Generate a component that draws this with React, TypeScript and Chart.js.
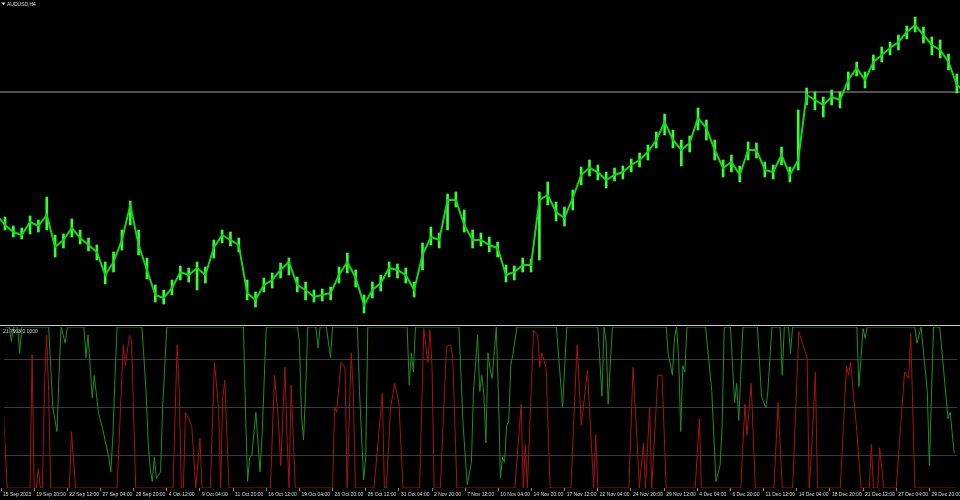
import React, { useEffect, useRef } from "react";
import { Chart, registerables } from "chart.js";

Chart.register(...registerables);

const symbolLabel = "AUDUSD,H4";
const indicatorLabel = "21.7903 0.0000";

const timeLabels = [
  "15 Sep 2023", "19 Sep 20:00", "22 Sep 12:00", "27 Sep 04:00", "29 Sep 20:00",
  "4 Oct 12:00", "9 Oct 04:00", "11 Oct 20:00", "16 Oct 12:00", "19 Oct 04:00",
  "23 Oct 20:00", "26 Oct 12:00", "31 Oct 04:00", "2 Nov 20:00", "7 Nov 12:00",
  "10 Nov 04:00", "14 Nov 20:00", "17 Nov 12:00", "22 Nov 04:00", "24 Nov 20:00",
  "29 Nov 12:00", "4 Dec 04:00", "6 Dec 20:00", "11 Dec 12:00", "14 Dec 04:00",
  "18 Dec 20:00", "21 Dec 12:00", "27 Dec 04:00", "29 Dec 20:00",
];
const barsPerLabel = 16;
const barsPerSample = 4;

const priceClose = [
  0.6470, 0.6450, 0.6436, 0.6430, 0.6456, 0.6448, 0.6470, 0.6406, 0.6420, 0.6444,
  0.6424, 0.6410, 0.6396, 0.6350, 0.6376, 0.6420, 0.6490, 0.6410, 0.6360, 0.6310,
  0.6304, 0.6324, 0.6356, 0.6350, 0.6364, 0.6350, 0.6404, 0.6430, 0.6420, 0.6410,
  0.6314, 0.6300, 0.6330, 0.6340, 0.6360, 0.6376, 0.6330, 0.6320, 0.6306, 0.6310,
  0.6314, 0.6350, 0.6376, 0.6344, 0.6290, 0.6320, 0.6334, 0.6364, 0.6360, 0.6350,
  0.6320, 0.6390, 0.6426, 0.6420, 0.6500, 0.6500, 0.6450, 0.6420, 0.6420, 0.6410,
  0.6404, 0.6350, 0.6356, 0.6370, 0.6370, 0.6500, 0.6510, 0.6476, 0.6464, 0.6504,
  0.6550, 0.6564, 0.6556, 0.6540, 0.6550, 0.6556, 0.6570, 0.6580, 0.6596, 0.6620,
  0.6656, 0.6620, 0.6600, 0.6614, 0.6664, 0.6644, 0.6600, 0.6564, 0.6576, 0.6550,
  0.6600, 0.6600, 0.6560, 0.6556, 0.6590, 0.6550, 0.6580, 0.6710, 0.6700, 0.6690,
  0.6706, 0.6700, 0.6740, 0.6764, 0.6740, 0.6776, 0.6790, 0.6804, 0.6816, 0.6836,
  0.6850, 0.6830, 0.6810, 0.6800, 0.6776, 0.6730, 0.6716,
];
const priceHigh = [
  0.6480, 0.6466, 0.6448, 0.6444, 0.6468, 0.6460, 0.6506, 0.6430, 0.6432, 0.6462,
  0.6440, 0.6424, 0.6410, 0.6376, 0.6396, 0.6440, 0.6498, 0.6440, 0.6384, 0.6330,
  0.6320, 0.6340, 0.6368, 0.6364, 0.6376, 0.6366, 0.6420, 0.6440, 0.6436, 0.6424,
  0.6340, 0.6316, 0.6344, 0.6354, 0.6374, 0.6384, 0.6346, 0.6336, 0.6320, 0.6322,
  0.6326, 0.6366, 0.6394, 0.6360, 0.6310, 0.6336, 0.6350, 0.6376, 0.6372, 0.6364,
  0.6336, 0.6414, 0.6446, 0.6434, 0.6512, 0.6516, 0.6480, 0.6440, 0.6434, 0.6426,
  0.6416, 0.6370, 0.6368, 0.6384, 0.6382, 0.6516, 0.6536, 0.6496, 0.6486, 0.6520,
  0.6566, 0.6580, 0.6570, 0.6556, 0.6564, 0.6568, 0.6582, 0.6594, 0.6610, 0.6636,
  0.6672, 0.6640, 0.6620, 0.6628, 0.6684, 0.6660, 0.6620, 0.6580, 0.6590, 0.6568,
  0.6616, 0.6614, 0.6576, 0.6570, 0.6606, 0.6566, 0.6680, 0.6724, 0.6716, 0.6706,
  0.6720, 0.6716, 0.6756, 0.6776, 0.6756, 0.6790, 0.6806, 0.6816, 0.6830, 0.6848,
  0.6866, 0.6846, 0.6826, 0.6820, 0.6792, 0.6752, 0.6730,
];
const priceLow = [
  0.6456, 0.6440, 0.6426, 0.6422, 0.6432, 0.6436, 0.6440, 0.6386, 0.6404, 0.6426,
  0.6412, 0.6398, 0.6380, 0.6332, 0.6356, 0.6400, 0.6450, 0.6390, 0.6342, 0.6296,
  0.6292, 0.6310, 0.6340, 0.6336, 0.6320, 0.6334, 0.6384, 0.6414, 0.6408, 0.6396,
  0.6300, 0.6286, 0.6316, 0.6324, 0.6344, 0.6350, 0.6316, 0.6300, 0.6296, 0.6298,
  0.6300, 0.6334, 0.6354, 0.6326, 0.6274, 0.6304, 0.6318, 0.6346, 0.6344, 0.6334,
  0.6306, 0.6360, 0.6410, 0.6404, 0.6440, 0.6486, 0.6436, 0.6404, 0.6408, 0.6396,
  0.6386, 0.6336, 0.6340, 0.6356, 0.6356, 0.6380, 0.6490, 0.6458, 0.6448, 0.6480,
  0.6530, 0.6548, 0.6540, 0.6524, 0.6538, 0.6542, 0.6556, 0.6566, 0.6580, 0.6604,
  0.6630, 0.6604, 0.6568, 0.6596, 0.6640, 0.6620, 0.6580, 0.6546, 0.6556, 0.6536,
  0.6580, 0.6584, 0.6546, 0.6542, 0.6570, 0.6536, 0.6560, 0.6690, 0.6680, 0.6666,
  0.6690, 0.6684, 0.6720, 0.6748, 0.6724, 0.6760, 0.6776, 0.6790, 0.6800, 0.6822,
  0.6836, 0.6814, 0.6790, 0.6784, 0.6760, 0.6714, 0.6700,
];
const levelPrice = 0.6716;

const indicatorLevels = [20, 50, 80];

// [bar index, value]
const greenLine: [number, number][] = [
  [2, 100], [4, 100], [5, 91], [6, 100], [8, 100], [9, 84], [10, 100],
  [23, 100], [25, 50], [27, 35], [28, 70], [29, 100], [30, 95], [31, 90], [32, 100],
  [40, 100], [41, 81], [42, 95], [43, 76], [44, 56], [45, 70], [47, 47], [49, 37], [52, 19], [53, 10], [54, 33], [55, 68], [56, 100],
  [68, 100], [70, 60], [71, 29], [72, 12], [73, 4], [74, 19], [75, 6], [77, 10], [78, 50], [80, 100],
  [117, 100], [118, 47], [119, 4], [120, 19], [121, 20], [123, 47], [125, 10], [126, 33], [128, 100],
  [143, 100], [144, 91], [145, 45], [146, 30], [147, 60], [148, 100],
  [152, 100], [153, 87], [154, 100], [157, 100], [159, 81], [160, 100],
  [172, 100], [173, 60], [175, 5], [176, 19], [177, 100],
  [196, 100], [197, 64], [198, 84], [199, 72], [200, 100],
  [221, 100], [223, 39], [225, 2], [227, 16], [228, 60], [230, 95], [231, 60], [232, 70], [233, 58], [234, 28], [235, 84], [236, 74], [237, 68], [239, 100],
  [240, 60], [241, 6], [242, 19], [243, 16], [244, 39], [245, 41], [246, 76], [247, 83], [249, 100],
  [268, 100], [271, 50], [273, 100],
  [288, 100], [290, 57], [291, 100], [292, 91], [293, 52], [295, 100],
  [321, 100], [322, 83], [324, 70], [325, 93], [326, 100], [327, 81], [328, 35], [329, 76], [330, 72], [331, 100],
  [340, 100], [343, 60], [345, 4], [347, 14], [348, 39], [349, 100],
  [352, 100], [354, 53], [355, 65], [356, 42], [358, 100],
  [365, 100], [367, 57], [369, 50], [370, 59], [372, 100],
  [376, 100], [377, 70], [378, 100], [380, 100], [381, 84], [382, 100],
  [413, 100], [414, 63], [416, 99], [417, 93], [418, 100],
  [441, 100], [442, 90], [444, 100], [447, 60], [448, 14], [450, 100],
  [453, 100], [457, 43], [458, 47], [460, 21.79],
];

const redLine: [number, number][] = [
  [1, 52], [3, 0], [14, 0], [15, 83], [16, 0], [17, 0], [18, 12], [19, 0],
  [20, 0], [21, 64], [22, 95], [23, 60], [24, 0], [33, 0], [34, 35], [36, 0],
  [56, 0], [59, 89], [60, 76], [62, 95], [63, 91], [65, 0],
  [83, 0], [85, 89], [86, 60], [87, 0], [88, 0], [89, 47], [92, 39], [94, 0], [96, 31], [97, 0],
  [101, 0], [103, 78], [105, 50], [106, 0], [107, 56], [108, 67], [110, 0],
  [130, 0], [132, 70], [134, 39], [135, 14], [137, 75], [138, 33], [139, 0], [140, 64], [142, 0],
  [160, 0], [161, 50], [162, 47], [164, 78], [166, 75], [167, 0], [169, 84], [170, 60], [171, 0],
  [180, 0], [184, 59], [185, 0], [186, 0], [188, 50], [190, 65], [192, 53], [194, 0],
  [202, 0], [204, 99], [206, 78], [207, 98], [208, 75], [209, 0],
  [212, 0], [215, 88], [217, 89], [218, 81], [220, 0],
  [248, 0], [251, 52], [252, 0], [253, 27], [254, 0], [257, 98], [259, 95], [260, 75], [261, 84], [263, 75], [265, 0],
  [275, 0], [278, 89], [280, 39], [283, 73], [286, 0], [287, 33], [288, 0],
  [303, 0], [305, 75], [307, 28], [308, 0], [310, 28], [311, 0], [313, 50], [314, 0], [317, 70], [319, 70], [321, 0],
  [335, 0], [337, 43], [338, 0],
  [357, 0], [359, 52], [360, 33], [362, 65], [364, 0],
  [373, 0], [375, 53], [377, 0],
  [382, 0], [385, 97], [389, 81], [390, 0], [391, 19], [393, 72], [394, 0],
  [405, 0], [408, 76], [409, 70], [410, 78], [413, 35], [415, 0],
  [419, 0], [420, 27], [421, 0], [423, 0], [424, 25], [426, 0],
  [432, 0], [436, 72], [438, 68], [439, 96], [441, 0], [461, 0],
];

const X_MIN = 1.6;
const X_MAX = 461.5;
const FONT = '"Liberation Sans", Arial, sans-serif';

const mainText = {
  id: "mainText",
  afterDraw(chart: any) {
    const c = chart.ctx;
    c.save();
    c.fillStyle = "#dcdcdc";
    c.beginPath();
    c.moveTo(1.5, 2.5);
    c.lineTo(5.5, 2.5);
    c.lineTo(3.5, 5.2);
    c.closePath();
    c.fill();
    c.font = `5px ${FONT}`;
    c.textBaseline = "middle";
    c.textAlign = "left";
    c.fillText(symbolLabel, 7, 4.3);
    c.restore();
  },
};

const indText = {
  id: "indText",
  afterDraw(chart: any) {
    const c = chart.ctx;
    c.save();
    c.fillStyle = "#d0d0d0";
    c.font = `5px ${FONT}`;
    c.textBaseline = "middle";
    c.textAlign = "left";
    c.fillText(indicatorLabel, 3, 5.3);
    c.restore();
  },
};

export default function App() {
  const mainRef = useRef<HTMLCanvasElement>(null);
  const indRef = useRef<HTMLCanvasElement>(null);

  useEffect(() => {
    const xs = priceClose.map((_, i) => i * barsPerSample);
    const main = new Chart(mainRef.current as HTMLCanvasElement, {
      type: "bar",
      data: {
        datasets: [
          {
            type: "bar",
            data: xs.map((x, i) => ({ x, y: [priceLow[i], priceHigh[i]] })) as any,
            backgroundColor: "#33ff33",
            borderWidth: 0,
            barThickness: 2,
            order: 2,
          } as any,
          {
            type: "line",
            data: xs.map((x, i) => ({ x, y: priceClose[i] })),
            borderColor: "#19d419",
            borderWidth: 2,
            pointRadius: 0,
            tension: 0,
            order: 1,
          } as any,
          {
            type: "line",
            data: [
              { x: X_MIN, y: levelPrice },
              { x: X_MAX, y: levelPrice },
            ],
            borderColor: "#a0a0a0",
            borderWidth: 1,
            pointRadius: 0,
            order: 3,
          } as any,
        ],
      },
      options: {
        animation: false,
        responsive: false,
        events: [],
        layout: { padding: 0 },
        plugins: { legend: { display: false }, tooltip: { enabled: false } },
        scales: {
          x: { type: "linear", min: X_MIN, max: X_MAX, display: false, offset: false },
          y: { min: 0.625, max: 0.69, display: false },
        },
      } as any,
      plugins: [mainText],
    });

    const ind = new Chart(indRef.current as HTMLCanvasElement, {
      type: "line",
      data: {
        datasets: [
          {
            data: greenLine.map(([x, y]) => ({ x, y })),
            borderColor: "#1f8f1f",
            borderWidth: 1,
            pointRadius: 0,
            tension: 0,
          },
          {
            data: redLine.map(([x, y]) => ({ x, y })),
            borderColor: "#a31414",
            borderWidth: 1,
            pointRadius: 0,
            tension: 0,
          },
        ],
      },
      options: {
        animation: false,
        responsive: false,
        events: [],
        layout: { padding: { top: 1, left: 0, right: 0, bottom: 0 } },
        plugins: { legend: { display: false }, tooltip: { enabled: false } },
        scales: {
          x: {
            type: "linear",
            min: X_MIN,
            max: X_MAX,
            offset: false,
            afterBuildTicks: (s: any) => {
              s.ticks = timeLabels.map((_, k) => ({ value: k * barsPerLabel }));
            },
            afterFit: (s: any) => {
              s.height = 12;
            },
            ticks: {
              autoSkip: false,
              maxRotation: 0,
              minRotation: 0,
              align: "start",
              labelOffset: 2,
              padding: 1,
              color: "#d8d8d8",
              font: { family: FONT, size: 5 },
              callback: (v: any) => timeLabels[Math.round(Number(v) / barsPerLabel)] ?? "",
            },
            grid: { drawOnChartArea: false, drawTicks: true, tickLength: 3, color: "#8a8a8a" },
            border: { display: false },
          },
          y: {
            min: 0,
            max: 100,
            position: "left",
            afterBuildTicks: (s: any) => {
              s.ticks = indicatorLevels.map((v) => ({ value: v }));
            },
            ticks: { display: false },
            grid: { color: "#3a3a3a", drawTicks: false },
            border: { display: false },
          },
        },
      } as any,
      plugins: [indText],
    });

    return () => {
      main.destroy();
      ind.destroy();
    };
  }, []);

  return (
    <div style={{ position: "fixed", left: 0, top: 0, width: 960, height: 500, background: "#000", overflow: "hidden" }}>
      <div style={{ position: "absolute", left: 0, top: 0, width: 960, height: 325 }}>
        <canvas ref={mainRef} width={960} height={325} style={{ display: "block" }} />
      </div>
      <div style={{ position: "absolute", left: 0, top: 325, width: 960, height: 1, background: "#c4ccc4" }} />
      <div style={{ position: "absolute", left: 0, top: 326, width: 960, height: 174 }}>
        <canvas ref={indRef} width={960} height={174} style={{ display: "block" }} />
      </div>
    </div>
  );
}
